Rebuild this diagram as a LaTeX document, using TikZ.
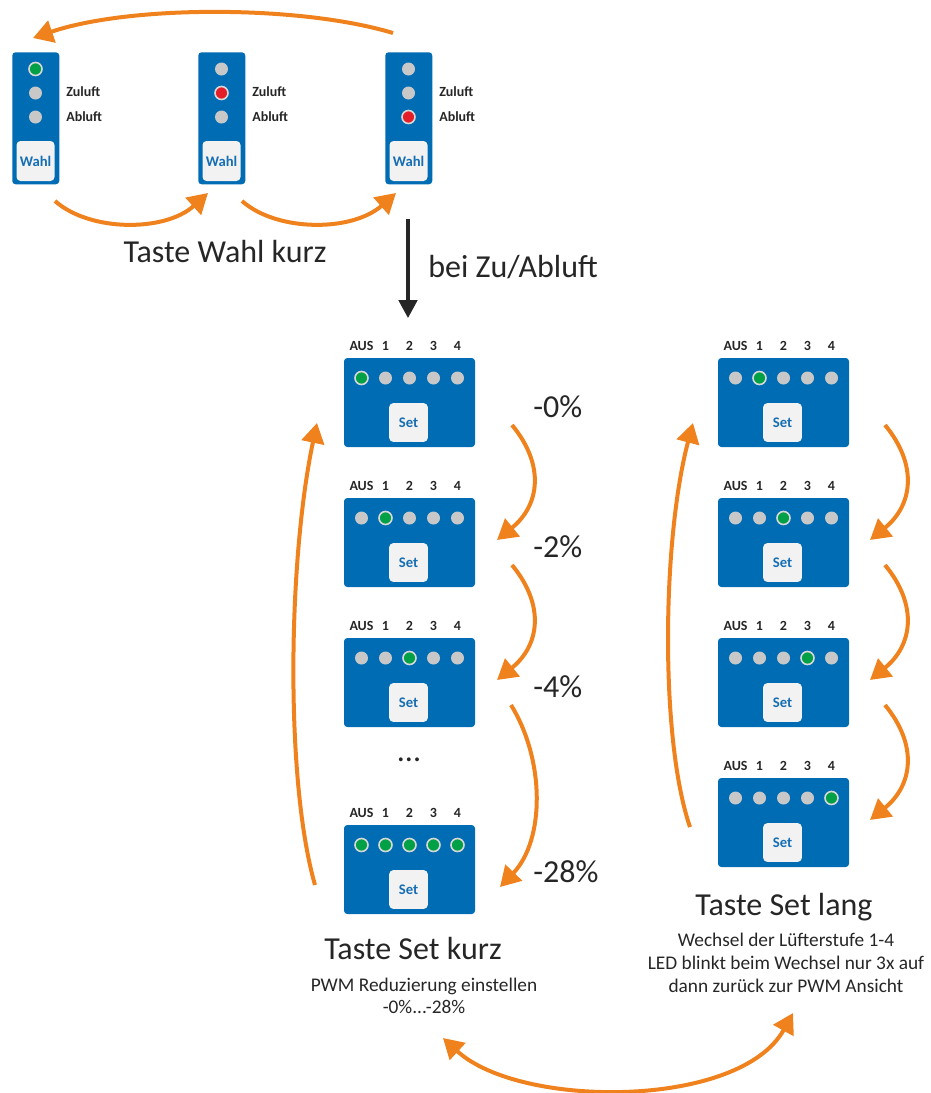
\documentclass[tikz,border=0pt]{standalone}
\usepackage{fontspec}
\setmainfont{Carlito}
\usetikzlibrary{arrows.meta}

\definecolor{boxblue}{RGB}{0,108,180}
\definecolor{keygray}{RGB}{242,242,242}
\definecolor{keyblue}{RGB}{22,110,180}
\definecolor{ledoff}{RGB}{200,200,200}
\definecolor{ledgreen}{RGB}{0,160,70}
\definecolor{ledred}{RGB}{228,30,40}
\definecolor{ledring}{RGB}{215,215,215}
\definecolor{arroworange}{RGB}{240,130,30}
\definecolor{textgray}{RGB}{38,38,38}

\begin{document}
\begin{tikzpicture}[x=0.75pt,y=-0.75pt]
%\draw[help lines,step=50] (0,0) grid (931,1093);
\useasboundingbox (0,0) rectangle (931,1093);

\tikzset{
every node/.style	= {text=textgray},
wahlbox/.style		= {fill=boxblue, rounded corners=2.5pt, inner sep=0pt,
					   minimum width=35.25pt, minimum height=99pt, anchor=north west},
setbox/.style		= {fill=boxblue, rounded corners=2.5pt, inner sep=0pt,
					   minimum width=98.25pt, minimum height=66.75pt},
key/.style			= {fill=keygray, rounded corners=3pt, inner sep=0pt,
					   minimum width=29pt, minimum height=29pt,
					   text=keyblue, font=\fontsize{11}{13}\selectfont\bfseries},
tag/.style			= {inner sep=0pt, font=\fontsize{10.5}{12}\selectfont\bfseries},
big/.style			= {inner sep=0pt, font=\fontsize{24}{28}\selectfont},
small/.style		= {inner sep=0pt, align=center, font=\fontsize{14.5}{17}\selectfont},
ledon/.style		= {draw=ledring, line width=1.2pt},
flow/.style			= {draw=arroworange, line width=3pt, -{Triangle[length=15pt,width=17pt]}},
flowboth/.style		= {draw=arroworange, line width=3pt,
					   {Triangle[length=15pt,width=17pt]}-{Triangle[length=15pt,width=17pt]}},
down/.style			= {draw=textgray, line width=2.3pt, -{Triangle[length=13.5pt,width=14pt]}}
}

% Wahl modules
\foreach \n/\x/\lit/\col in {A/12/1/ledgreen, B/198/2/ledred, C/385/3/ledred} {
	\node[wahlbox] (wahl\n) at (\x,52) {};
	\foreach \y in {69,93,117}
		\fill[ledoff] (\x+23.5,\y) circle (6.5);
	\filldraw[ledon, fill=\col] (\x+23.5,{69+24*(\lit-1)}) circle (6.5);
	\node[key, minimum width=28.5pt, minimum height=30pt] (wahl\n key) at (\x+23.5,161) {Wahl};
	\node[tag, anchor=west] (wahl\n zu) at (\x+54,92) {Zuluft};
	\node[tag, anchor=west] (wahl\n ab) at (\x+54,117) {Abluft};
}

% Set modules, K = kurz, L = lang
\foreach \n/\x/\y/\on in {K1/409.5/402.5/{0}, K2/409.5/542.5/{1}, K3/409.5/682.5/{2},
						  K4/409.5/869.5/{0,1,2,3,4},
						  L1/783.5/402.5/{1}, L2/783.5/542.5/{2}, L3/783.5/682.5/{3},
						  L4/783.5/822.5/{4}} {
	\node[setbox] (set\n) at (\x,\y) {};
	\foreach \i/\t in {0/AUS,1/1,2/2,3/3,4/4} {
		\fill[ledoff] (\x-48+24*\i,\y-24.5) circle (6.5);
		\node[tag] (set\n t\i) at (\x-48+24*\i,\y-57) {\t};
	}
	\foreach \i in \on
		\filldraw[ledon, fill=ledgreen] (\x-48+24*\i,\y-24.5) circle (6.5);
	\node[key] (set\n key) at (\x-1,\y+20) {Set};
}

\node[big] (dots) at (409,760) {...};

% texts
\node[big] (wahlkurz) at (225,252) {Taste Wahl kurz};
\node[big, anchor=west] (zuab) at (428,267) {bei Zu/Abluft};
\node[big, anchor=west] (pct0) at (533,407) {-0\%};
\node[big, anchor=west] (pct2) at (533,547) {-2\%};
\node[big, anchor=west] (pct4) at (533,687) {-4\%};
\node[big, anchor=west] (pct28) at (533,872) {-28\%};
\node[big] (setkurz) at (413,948) {Taste Set kurz};
\node[small] (setkurztxt) at (424,996) {PWM Reduzierung einstellen\\-0\%...-28\%};
\node[big] (setlang) at (784,907) {Taste Set lang};
\node[small] (setlangtxt) at (786,963) {Wechsel der Lüfterstufe 1-4\\LED blinkt beim Wechsel nur 3x auf\\dann zurück zur PWM Ansicht};

% arrow ends
\coordinate (wA) at (55,201);
\coordinate (wB1) at (208,193);
\coordinate (wB) at (242,201);
\coordinate (wC1) at (396,193);
\coordinate (wC) at (393,33);
\coordinate (wA1) at (33,38);
\coordinate (zutop) at (408,219);
\coordinate (zubot) at (408,318);
\coordinate (kurzup) at (315,885);
\coordinate (kurztop) at (317,423);
\coordinate (langup) at (690,827);
\coordinate (langtop) at (693,423);
\coordinate (back1) at (443,1038);
\coordinate (back2) at (793,1013);

\path[flow]
(wA) .. controls +(35,31) and +(-43,39) .. (wB1);
\path[flow]
(wB) .. controls +(35,31) and +(-44,39) .. (wC1);
\path[flow]
(wC) .. controls (300,5) and (130,5) .. (wA1);
\path[down] (zutop) -- (zubot);

\foreach \i/\a/\b in {1/425/540, 2/565/680} {
	\coordinate (kurz\i a) at (512,\a);
	\coordinate (kurz\i b) at (497,\b);
	\path[flow] (kurz\i a) .. controls +(33,40) and +(43,-35) .. (kurz\i b);
}
\coordinate (kurz3a) at (511,705);
\coordinate (kurz3b) at (500,887);
\path[flow] (kurz3a) .. controls (545,760) and (545,840) .. (kurz3b);

\foreach \i/\a/\b in {1/425/540, 2/565/680, 3/705/820} {
	\coordinate (lang\i a) at (885,\a);
	\coordinate (lang\i b) at (870,\b);
	\path[flow] (lang\i a) .. controls +(33,40) and +(43,-35) .. (lang\i b);
}

\path[flow] (kurzup) .. controls (285,780) and (288,560) .. (kurztop);
\path[flow] (langup) .. controls (660,740) and (662,540) .. (langtop);
\path[flowboth] (back1) .. controls (520,1109) and (740,1109) .. (back2);

\end{tikzpicture}
\end{document}
